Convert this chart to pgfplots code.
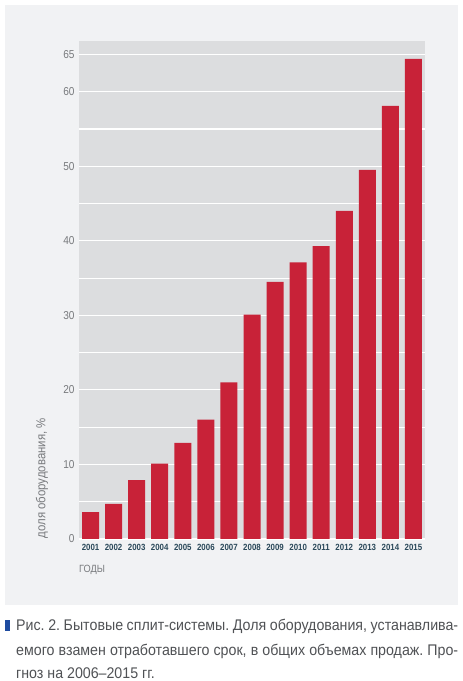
\documentclass[border=0pt]{standalone}
\usepackage{pgfplots}
\pgfplotsset{compat=1.18}
\usepackage{fontspec}
\setmainfont{Liberation Sans}[FakeStretch=0.88]
\newfontfamily\capfont{Liberation Sans}[FakeStretch=0.92]
\definecolor{barred}{RGB}{200,34,56}
\definecolor{plotbg}{RGB}{220,221,223}
\definecolor{outerbg}{RGB}{241,242,244}
\definecolor{ticklab}{RGB}{120,122,125}
\definecolor{yearlab}{RGB}{42,72,90}
\definecolor{captext}{RGB}{80,82,85}
\definecolor{capblue}{RGB}{30,75,160}
\frenchspacing
\begin{document}
\begin{tikzpicture}[x=1bp,y=1bp]
\fill[white] (0,0) rectangle (463,681);
\fill[outerbg] (5,76) rectangle (458,676);
\begin{axis}[
  at={(79bp,142bp)}, anchor=south west,
  scale only axis, width=346bp, height=498bp,
  xmin=-0.5, xmax=14.5, ymin=0, ymax=66.8,
  axis background/.style={fill=plotbg},
  axis line style={draw=none},
  major tick length=0pt,
  ytick={0,5,...,65},
  yticklabels={0,,10,,20,,30,,40,,50,,60,65},
  ymajorgrids, grid style={white, line width=1.1bp},
  xtick={0,...,14},
  xticklabels={2001,2002,2003,2004,2005,2006,2007,2008,2009,2010,2011,2012,2013,2014,2015},
  ybar, bar width=17bp,
  /pgf/number format/assume math mode=true,
  yticklabel style={font=\fontsize{11.5}{13}\selectfont, text=ticklab, xshift=-1bp},
  xticklabel style={font=\bfseries\fontsize{9}{10}\selectfont, text=yearlab, yshift=-1.5bp},
]
\addplot[fill=barred, draw=none] coordinates {
(0,3.6) (1,4.7) (2,7.9) (3,10.1) (4,12.9) (5,16.0) (6,21.0) (7,30.1)
(8,34.5) (9,37.1) (10,39.3) (11,44.0) (12,49.5) (13,58.1) (14,64.4)};
\end{axis}
\node[rotate=90, anchor=west, inner sep=0pt, text=ticklab, font=\fontsize{13}{15}\selectfont] at (42,142.5) {доля оборудования, \%};
\node[anchor=west, inner sep=0pt, text=ticklab, font=\fontsize{10.5}{12}\selectfont] at (79,111.5) {ГОДЫ};
\fill[capblue] (5,50) rectangle (10,61);
\node[anchor=base west, inner sep=0pt, text=captext, font=\capfont\fontsize{15.5}{18}\selectfont] at (16,50) {\makebox[442bp][s]{Рис. 2. Бытовые сплит-системы. Доля оборудования, устанавлива-}};
\node[anchor=base west, inner sep=0pt, text=captext, font=\capfont\fontsize{15.5}{18}\selectfont] at (16,25.5) {\makebox[442bp][s]{емого взамен отработавшего срок, в общих объемах продаж. Про-}};
\node[anchor=base west, inner sep=0pt, text=captext, font=\capfont\fontsize{15.5}{18}\selectfont] at (16,2.5) {гноз на 2006–2015 гг.};
\end{tikzpicture}
\end{document}
